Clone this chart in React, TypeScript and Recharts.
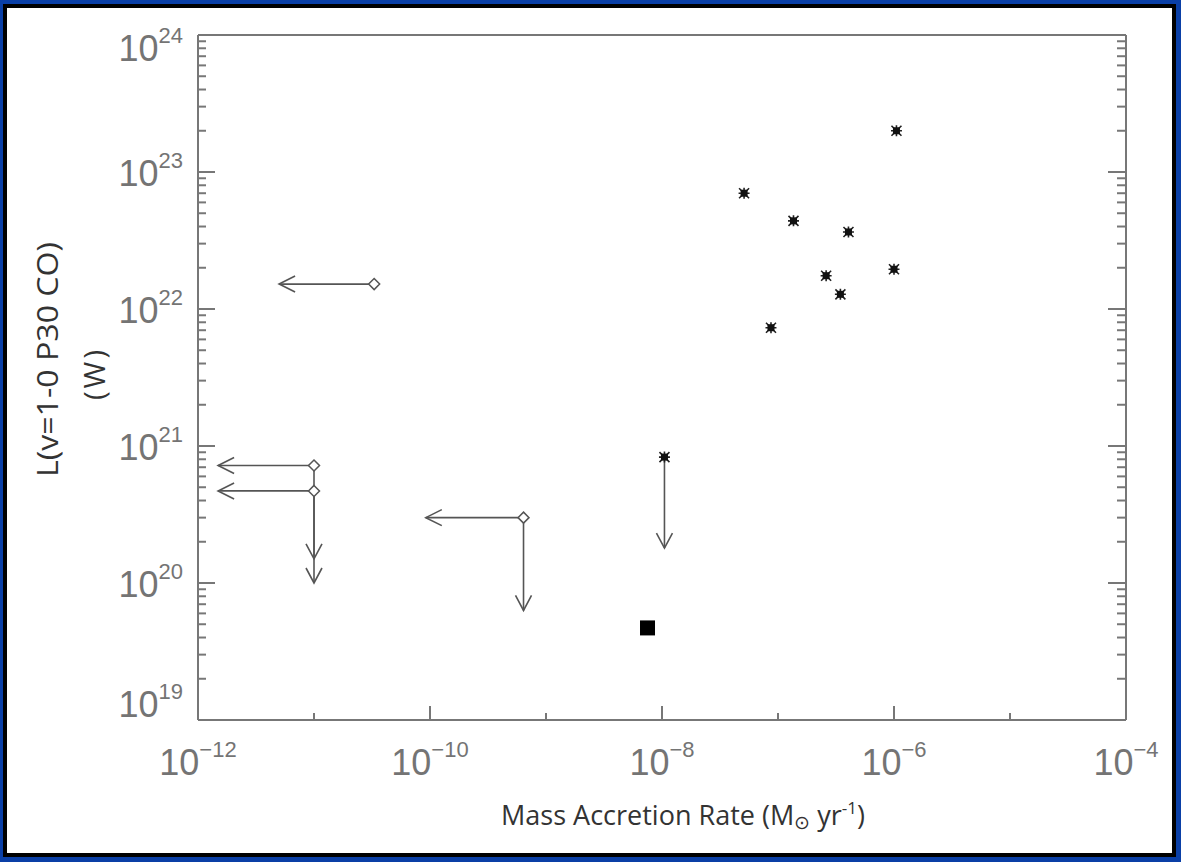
import { Label, Scatter, ScatterChart, XAxis, YAxis } from 'recharts'

// detections (filled stars)
const starX = [1.05e-6, 5.1e-8, 1.36e-7, 4.05e-7, 2.6e-7, 1.0e-6, 3.45e-7, 8.7e-8, 1.05e-8]
const starY = [2.0e23, 7.0e22, 4.4e22, 3.65e22, 1.75e22, 1.95e22, 1.28e22, 7.3e21, 8.3e20]

// open diamonds
const diamondX = [3.3e-11, 1e-11, 1e-11, 6.4e-10]
const diamondY = [1.52e22, 7.2e20, 4.7e20, 3.0e20]

// filled square
const squareX = [7.5e-9]
const squareY = [4.7e19]

// upper limits on accretion rate (arrows pointing left)
const leftLimX = [3.3e-11, 1e-11, 1e-11, 6.4e-10]
const leftLimY = [1.52e22, 7.2e20, 4.7e20, 3.0e20]
const leftLimTo = [5.0e-12, 1.49e-12, 1.49e-12, 9.2e-11]

// upper limits on luminosity (arrows pointing down)
const downLimX = [1e-11, 1e-11, 6.4e-10, 1.05e-8]
const downLimY = [7.2e20, 4.7e20, 3.0e20, 8.3e20]
const downLimTo = [1.5e20, 1.0e20, 6.3e19, 1.8e20]

// axis ticks
const xTicks = [1e-12, 1e-11, 1e-10, 1e-9, 1e-8, 1e-7, 1e-6, 1e-5, 1e-4]
const yDecades = [1e19, 1e20, 1e21, 1e22, 1e23]
const yMinorSteps = [1, 2, 3, 4, 5, 6, 7, 8, 9]
const yTicks = [...yDecades.flatMap((d) => yMinorSteps.map((m) => m * d)), 1e24]

const stars = starX.map((x, i) => ({ x, y: starY[i] }))
const diamonds = diamondX.map((x, i) => ({ x, y: diamondY[i] }))
const squares = squareX.map((x, i) => ({ x, y: squareY[i] }))
const leftArrows = leftLimX.map((x, i) => [
  { x, y: leftLimY[i] },
  { x: leftLimTo[i], y: leftLimY[i], head: 'left' },
])
const downArrows = downLimX.map((x, i) => [
  { x, y: downLimY[i] },
  { x, y: downLimTo[i], head: 'down' },
])

const AXIS = '#777'
const TICK_TXT = '#747474'
const ARROW = '#555'
const tickFont = '"Liberation Sans", Arial, sans-serif'
const titleFont = '"Open Sans", "Noto Sans", sans-serif'

const expOf = (v: number) => Math.round(Math.log10(v))
const isDecade = (v: number) => Math.abs(v / Math.pow(10, expOf(v)) - 1) < 1e-6

function LeftTick(props: any) {
  const { x, y, payload } = props
  const v = payload.value
  const major = isDecade(v)
  const e = expOf(v)
  const shift = e === 24 ? 12 : e === 19 ? -17 : 0
  return (
    <g>
      <line x1={x} x2={x + (major ? 17 : 8)} y1={y} y2={y} stroke={AXIS} strokeWidth={2} />
      {major && (
        <text x={x - 15} y={y + 14 + shift} textAnchor="end" fontFamily={tickFont} fontSize={36} fill={TICK_TXT}>
          <tspan>10</tspan>
          <tspan dy={-18} fontSize={22}>{e}</tspan>
        </text>
      )}
    </g>
  )
}

function RightTick(props: any) {
  const { x, y, payload } = props
  const major = isDecade(payload.value)
  return <line x1={x} x2={x - (major ? 18 : 9)} y1={y} y2={y} stroke={AXIS} strokeWidth={2} />
}

function BottomTick(props: any) {
  const { x, y, payload } = props
  const e = expOf(payload.value)
  const major = e % 2 === 0
  return (
    <g>
      <line x1={x} x2={x} y1={y} y2={y - (major ? 14 : 7)} stroke={AXIS} strokeWidth={2} />
      {major && (
        <text x={x} y={y + 55} textAnchor="middle" fontFamily={tickFont} fontSize={36} fill={TICK_TXT}>
          <tspan>10</tspan>
          <tspan dy={-18} fontSize={22}>{'\u2212' + Math.abs(e)}</tspan>
        </text>
      )}
    </g>
  )
}

function TopTick(props: any) {
  const { x, y, payload } = props
  const major = expOf(payload.value) % 2 === 0
  return <line x1={x} x2={x} y1={y} y2={y + (major ? 15 : 7)} stroke={AXIS} strokeWidth={2} />
}

const StarShape = (p: any) => (
  <g transform={`translate(${p.cx},${p.cy})`}>
    <path d="M-5.5,0H5.5M0,-5.5V5.5M-5,-5L5,5M-5,5L5,-5" stroke="#222" strokeWidth={1.6} />
    <rect x={-3.5} y={-3.5} width={7} height={7} fill="#111" />
  </g>
)

const DiamondShape = (p: any) => (
  <path
    d={`M${p.cx},${p.cy - 5.5}L${p.cx + 5.5},${p.cy}L${p.cx},${p.cy + 5.5}L${p.cx - 5.5},${p.cy}Z`}
    fill="#fff"
    stroke={ARROW}
    strokeWidth={1.5}
  />
)

const SquareShape = (p: any) => <rect x={p.cx - 7.5} y={p.cy - 7.5} width={15} height={15} fill="#000" />

const ArrowHead = (p: any) => {
  const h = p.payload && p.payload.head
  if (h === 'left')
    return <path d={`M${p.cx + 16},${p.cy - 8}L${p.cx},${p.cy}L${p.cx + 16},${p.cy + 8}`} fill="none" stroke={ARROW} strokeWidth={1.6} />
  if (h === 'down')
    return <path d={`M${p.cx - 8},${p.cy - 15}L${p.cx},${p.cy}L${p.cx + 8},${p.cy - 15}`} fill="none" stroke={ARROW} strokeWidth={1.6} />
  return <g />
}

const XTitle = (props: any) => {
  const vb = props.viewBox
  return (
    <text x={vb.x + vb.width / 2 + 21} y={vb.y + 105} textAnchor="middle" fontFamily={titleFont} fontSize={27} fill="#333">
      Mass Accretion Rate (M
      <tspan fontSize={19} dy={4}>{'\u2299'}</tspan>
      <tspan dy={-4}> yr</tspan>
      <tspan fontSize={17} dy={-11}>-1</tspan>
      <tspan dy={11}>)</tspan>
    </text>
  )
}

const YTitle = (props: any) => {
  const vb = props.viewBox
  const cy1 = vb.y + vb.height / 2 - 18
  const cy2 = vb.y + vb.height / 2 - 4
  return (
    <g fontFamily={titleFont} fontSize={29} fill="#333">
      <text x={46} y={cy1} transform={`rotate(-90, 46, ${cy1})`} textAnchor="middle" dominantBaseline="central" textLength={235} lengthAdjust="spacingAndGlyphs">
        L(v=1-0 P30 CO)
      </text>
      <text x={93} y={cy2} transform={`rotate(-90, 93, ${cy2})`} textAnchor="middle" dominantBaseline="central" letterSpacing={3}>
        (W)
      </text>
    </g>
  )
}

export default function App() {
  return (
    <div style={{ position: 'absolute', left: 0, top: 0, width: 1181, height: 862, background: '#0a3fa6' }}>
      <div style={{ position: 'absolute', left: 3, top: 4, right: 5, bottom: 5, background: '#000' }} />
      <div style={{ position: 'absolute', left: 7, top: 8, right: 9, bottom: 9, background: '#fff' }} />
      <div style={{ position: 'absolute', left: 0, top: 0 }}>
        <ScatterChart width={1181} height={862} margin={{ top: 30, right: 50, bottom: 42, left: 0 }}>
          <XAxis
            xAxisId={0}
            dataKey="x"
            type="number"
            scale="log"
            domain={[1e-12, 1e-4]}
            allowDataOverflow
            ticks={xTicks}
            interval={0}
            tick={(p: any) => <BottomTick {...p} />}
            tickSize={0}
            tickMargin={0}
            tickLine={false}
            height={100}
            axisLine={{ stroke: AXIS, strokeWidth: 2 }}
          >
            <Label content={(p: any) => <XTitle {...p} />} />
          </XAxis>
          <XAxis
            xAxisId="top"
            orientation="top"
            type="number"
            scale="log"
            domain={[1e-12, 1e-4]}
            allowDataOverflow
            ticks={xTicks}
            interval={0}
            tick={(p: any) => <TopTick {...p} />}
            tickSize={0}
            tickMargin={0}
            tickLine={false}
            height={5}
            axisLine={{ stroke: AXIS, strokeWidth: 2 }}
          />
          <YAxis
            yAxisId={0}
            dataKey="y"
            type="number"
            scale="log"
            domain={[1e19, 1e24]}
            allowDataOverflow
            ticks={yTicks}
            interval={0}
            tick={(p: any) => <LeftTick {...p} />}
            tickSize={0}
            tickMargin={0}
            tickLine={false}
            width={198}
            axisLine={{ stroke: AXIS, strokeWidth: 2 }}
          >
            <Label content={(p: any) => <YTitle {...p} />} />
          </YAxis>
          <YAxis
            yAxisId="right"
            orientation="right"
            type="number"
            scale="log"
            domain={[1e19, 1e24]}
            allowDataOverflow
            ticks={yTicks}
            interval={0}
            tick={(p: any) => <RightTick {...p} />}
            tickSize={0}
            tickMargin={0}
            tickLine={false}
            width={5}
            axisLine={{ stroke: AXIS, strokeWidth: 2 }}
          />
          {leftArrows.map((d, i) => (
            <Scatter
              key={'l' + i}
              data={d}
              line={{ stroke: ARROW, strokeWidth: 1.6 }}
              shape={ArrowHead}
              isAnimationActive={false}
            />
          ))}
          {downArrows.map((d, i) => (
            <Scatter
              key={'d' + i}
              data={d}
              line={{ stroke: ARROW, strokeWidth: 1.6 }}
              shape={ArrowHead}
              isAnimationActive={false}
            />
          ))}
          <Scatter data={diamonds} shape={DiamondShape} isAnimationActive={false} />
          <Scatter data={stars} shape={StarShape} isAnimationActive={false} />
          <Scatter data={squares} shape={SquareShape} isAnimationActive={false} />
        </ScatterChart>
      </div>
    </div>
  )
}
